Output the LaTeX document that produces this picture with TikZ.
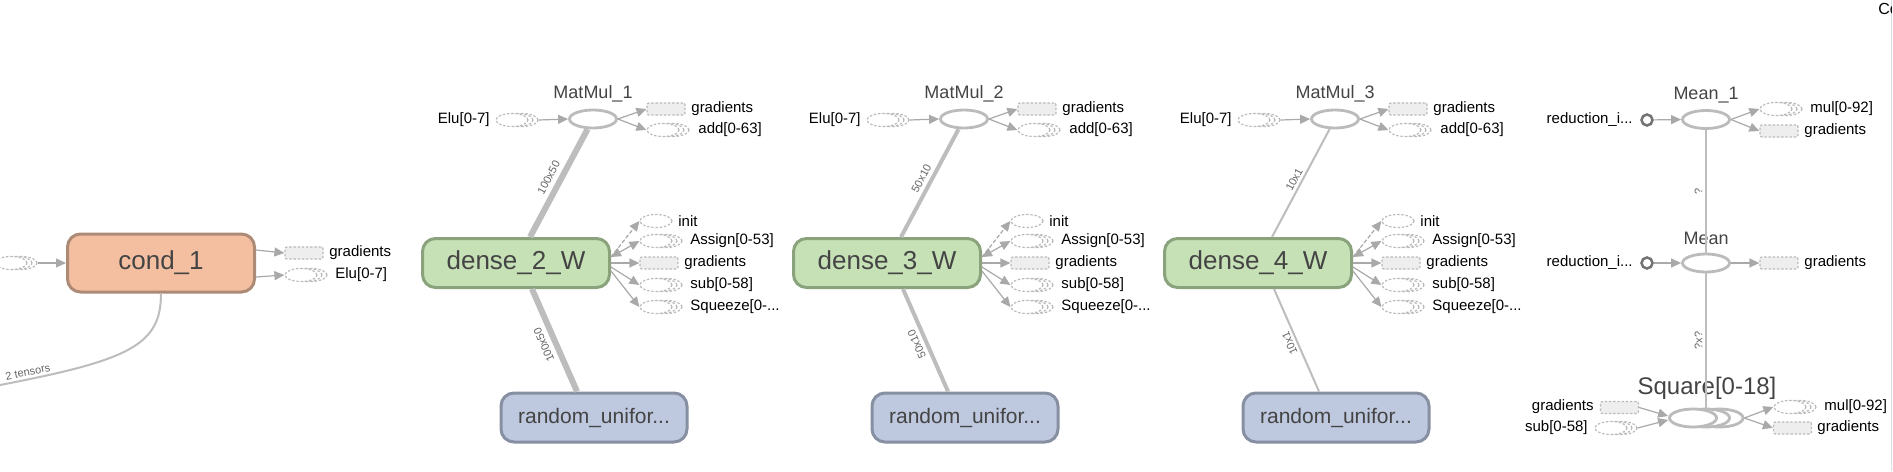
\documentclass[tikz,border=0pt]{standalone}
\usepackage{fontspec}
\setmainfont{Liberation Sans}
\usetikzlibrary{arrows.meta,shapes.geometric,calc}
\definecolor{edgec}{HTML}{BDBDBD}
\definecolor{arrc}{HTML}{A9A9A9}
\definecolor{dashc}{HTML}{BBBBBB}
\definecolor{gradf}{HTML}{EEEEEE}
\definecolor{condf}{HTML}{F4BFA1}
\definecolor{condd}{HTML}{AD8A76}
\definecolor{densef}{HTML}{C6E1B6}
\definecolor{densed}{HTML}{8BA37C}
\definecolor{randf}{HTML}{BEC8DE}
\definecolor{randd}{HTML}{878FA3}
\definecolor{opc}{HTML}{BBBBBB}
\definecolor{txtd}{HTML}{444444}
\definecolor{elc}{HTML}{666666}
\tikzset{
 tri/.tip={Triangle[length=5pt,width=4.5pt]},
 bigbox/.style={draw, line width=1.5pt, rounded corners=6.5pt, minimum width=93.5pt, minimum height=24.5pt, inner sep=0pt, text=txtd, font=\fontsize{13}{13}\selectfont},
 condbox/.style={bigbox, fill=condf, draw=condd, minimum height=29pt},
 densebox/.style={bigbox, fill=densef, draw=densed},
 randbox/.style={bigbox, fill=randf, draw=randd, minimum width=93pt, font=\fontsize{10.5}{10.5}\selectfont},
 opel/.style={ellipse, draw=opc, line width=1.4pt, fill=white, minimum width=23.5pt, minimum height=9pt, inner sep=0pt},
 dashel/.style={ellipse, draw=dashc, dash pattern=on 1.2pt off 0.9pt, line width=0.6pt, fill=white, minimum width=16pt, minimum height=6.5pt, inner sep=0pt},
 gradbox/.style={rectangle, draw=dashc, dash pattern=on 1.2pt off 0.9pt, line width=0.6pt, fill=gradf, rounded corners=1pt, minimum width=19pt, minimum height=6pt, inner sep=0pt},
 circnode/.style={circle, draw=gray!90!black, line width=1.25pt, fill=white, minimum size=5.5pt, inner sep=0pt},
 lbl/.style={font=\fontsize{7.5}{7.5}\selectfont, text=black, inner sep=0pt},
 oplbl/.style={font=\fontsize{9}{9}\selectfont, text=txtd, inner sep=0pt},
 sqlbl/.style={font=\fontsize{12}{12}\selectfont, text=txtd, inner sep=0pt},
 elbl/.style={font=\fontsize{5.5}{5.5}\selectfont, text=elc, inner sep=0.5pt, sloped},
 arr/.style={draw=arrc, line width=0.6pt, -tri},
 arrboth/.style={draw=arrc, line width=0.6pt, tri-tri},
 dasharr/.style={arr, dash pattern=on 2pt off 1pt},
 edgeline/.style={draw=edgec},
}
\newcommand\serel[3]{%
 \node[dashel] (#1c) at ({#2+10},#3) {};
 \node[dashel] (#1b) at ({#2+5},#3) {};
 \node[dashel] (#1) at (#2,#3) {};}
\begin{document}
\begin{tikzpicture}[x=0.5pt,y=-0.5pt]
\useasboundingbox (0,0) rectangle (1893,471);
\fill[white] (0,0) rectangle (1893,471);
% panel border
\draw[gray!25, line width=0.5pt] (1891.5,0) -- (1891.5,471);
\begin{scope}
\clip (1850,0) rectangle (1891,30);
\node[lbl, anchor=west, font=\fontsize{8}{8}\selectfont] (co) at (1878,9) {Co};
\end{scope}

% ---------- cond_1 ----------
\node[condbox] (cond) at (161,263) {cond\_1};
\serel{cin}{11}{263}
\draw[arr] (cinc.east) -- (cond.west);
\node[gradbox] (cg) at (304,253) {};
\node[lbl, anchor=west] (cglab) at (329,253) {gradients};
\serel{celu}{301}{275}
\node[lbl, anchor=west] (celulab) at (335,275) {Elu[0-7]};
\draw[arr] ([yshift=6.5pt]cond.east) -- (cg.west);
\draw[arr] ([yshift=-7pt]cond.east) -- (celu.west);
\coordinate (cend) at (0,385);
\draw[edgeline, line width=1pt] (cend) .. controls (130,360) and (161,345) .. (cond.south)
  node[elbl, pos=0.08, above=0.8pt] {2 tensors};

% ---------- MatMul / dense columns ----------
\foreach \M/\k/\d/\w/\o/\s in {593/1/2/3pt/1.8pt/100x50, 964/2/3/2pt/1.3pt/50x10, 1335/3/4/1pt/0.8pt/10x1}{
 \pgfmathsetmacro\D{\M-77}
 % MatMul op
 \node[opel] (mm\k) at (\M,119) {};
 \node[oplbl] (mmlab\k) at (\M,94) {MatMul\_\k};
 \serel{elu\k}{\M-81}{120}
 \node[lbl, anchor=east] (elulab\k) at ({\M-103},120) {Elu[0-7]};
 \draw[arr] (elu\k c.east) -- (mm\k.west);
 \node[gradbox] (mg\k) at ({\M+73},109) {};
 \node[lbl, anchor=west] (mglab\k) at ({\M+98},109) {gradients};
 \serel{add\k}{\M+70}{130}
 \node[lbl, anchor=west] (addlab\k) at ({\M+105},130) {add[0-63]};
 \draw[arr] (mm\k.east) -- (mg\k.west);
 \draw[arr] (mm\k.east) -- (add\k.west);
 % dense variable
 \node[densebox] (dw\d) at (\D,263) {dense\_\d\_W};
 \node[dashel] (init\d) at ({\D+140},221) {};
 \node[lbl, anchor=west] (initlab\d) at ({\D+162},221) {init};
 \serel{asg\d}{\D+140}{241}
 \node[lbl, anchor=west] (asglab\d) at ({\D+174},241) {Assign[0-53]};
 \node[gradbox] (dg\d) at ({\D+143},263) {};
 \node[lbl, anchor=west] (dglab\d) at ({\D+168},263) {gradients};
 \serel{sub\d}{\D+140}{285}
 \node[lbl, anchor=west] (sublab\d) at ({\D+174},285) {sub[0-58]};
 \serel{sq\d}{\D+140}{307}
 \node[lbl, anchor=west] (sqlab\d) at ({\D+174},307) {Squeeze[0-...};
 \draw[dasharr] ([yshift=3pt]dw\d.east) -- (init\d.west);
 \draw[arrboth] ([yshift=3pt]dw\d.east) -- (asg\d.west);
 \draw[arr] (dw\d.east) -- (dg\d.west);
 \draw[arr] ([yshift=-2pt]dw\d.east) -- (sub\d.west);
 \draw[arr] ([yshift=-4pt]dw\d.east) -- (sq\d.west);
 % random uniform
 \node[randbox] (rnd\d) at ({\M+1},417.5) {random\_unifor...};
 % edges
 \draw[edgeline, line width=\w] ([xshift=7pt]dw\d.north) -- (mm\k)
   node[elbl, midway, above=\o] {\s};
 \draw[edgeline, line width=\w] ([xshift=-8.5pt]rnd\d.north) -- ([xshift=8pt]dw\d.south)
   node[elbl, midway, above=\o, allow upside down] {\s};
}

% ---------- Mean_1 ----------
\node[opel] (mean1) at (1706,119.5) {};
\node[oplbl] (mean1lab) at (1706,95) {Mean\_1};
\node[circnode] (red1) at (1647,120) {};
\node[lbl, anchor=east] (red1lab) at (1633,120) {reduction\_i...};
\draw[arr] (red1) -- (mean1.west);
\serel{mula}{1776}{109}
\node[lbl, anchor=west] (mulalab) at (1810,109) {mul[0-92]};
\node[gradbox] (m1g) at (1779,131) {};
\node[lbl, anchor=west] (m1glab) at (1804,131) {gradients};
\draw[arr] (mean1.east) -- (mula.west);
\draw[arr] (mean1.east) -- (m1g.west);

% ---------- Mean ----------
\node[opel] (mean0) at (1706,263) {};
\node[oplbl] (mean0lab) at (1706,238) {Mean};
\node[circnode] (red0) at (1647,263) {};
\node[lbl, anchor=east] (red0lab) at (1633,263) {reduction\_i...};
\draw[arr] (red0) -- (mean0.west);
\node[gradbox] (m0g) at (1779,263) {};
\node[lbl, anchor=west] (m0glab) at (1804,263) {gradients};
\draw[arr] (mean0.east) -- (m0g.west);
\draw[edgeline, line width=1pt] (mean0) -- (mean1) node[elbl, midway, above=0.8pt] {?};

% ---------- Square[0-18] ----------
\node[sqlbl] (sqlabel) at (1707,388) {Square[0-18]};
\node[opel] (sqc) at (1719.5,418) {};
\node[opel] (sqb) at (1706,418) {};
\node[opel] (sqa) at (1693,418) {};
\draw[edgeline, line width=1pt] (sqb) -- (mean0) node[elbl, midway, above=0.8pt] {?x?};
\node[gradbox] (sqg) at (1619.5,407.5) {};
\node[lbl, anchor=east] (sqglab) at (1594,407) {gradients};
\serel{sqsub}{1611}{428}
\node[lbl, anchor=east] (sqsublab) at (1588,428) {sub[0-58]};
\draw[arr] (sqg.east) -- ([yshift=1pt]sqa.west);
\draw[arr] (sqsubc.east) -- ([yshift=-1pt]sqa.west);
\serel{sqmul}{1790}{407}
\node[lbl, anchor=west] (sqmullab) at (1824,407) {mul[0-92]};
\node[gradbox] (sqgo) at (1792.5,428) {};
\node[lbl, anchor=west] (sqgolab) at (1817,428) {gradients};
\draw[arr] (sqc.east) -- (sqmul.west);
\draw[arr] (sqc.east) -- (sqgo.west);
\end{tikzpicture}
\end{document}
